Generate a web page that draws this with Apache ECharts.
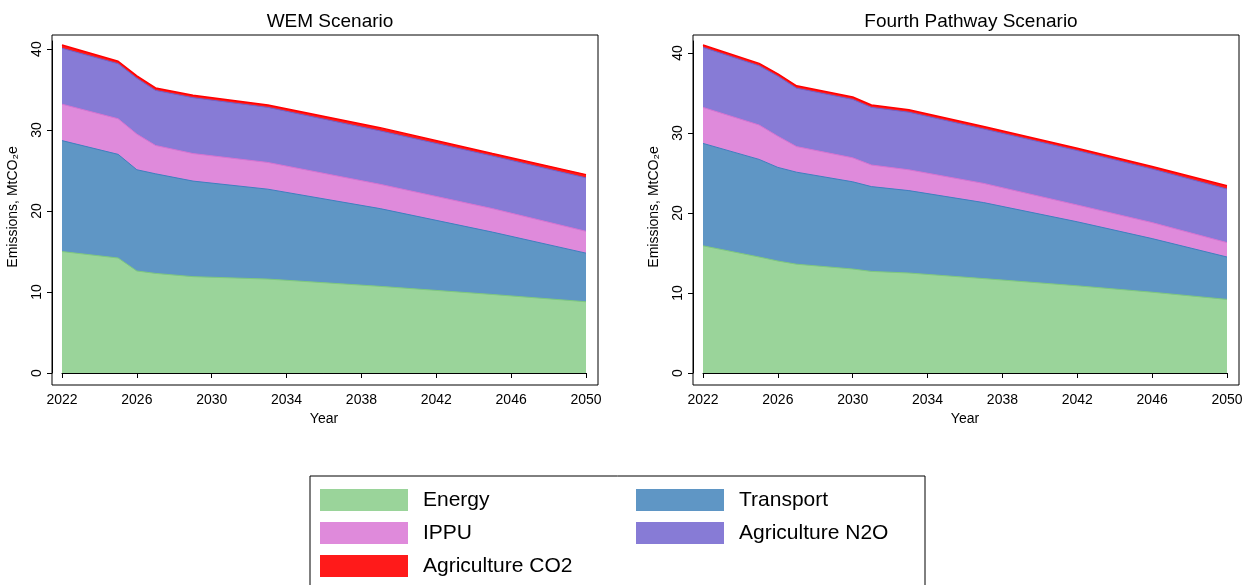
<!DOCTYPE html>
<html>
<head>
<meta charset="UTF-8" />
<script src="https://cdn.jsdelivr.net/npm/echarts@6/dist/echarts.min.js"></script>
<style>body{margin:0;background:#fff}</style>
</head>
<body>
<div id="main" style="width:1257px;height:585px"></div>
<script>
// cumulative tops of each stacked layer (MtCO2e)
const wemYears = [2022, 2025, 2026, 2027, 2029, 2033, 2039, 2045, 2050];
const wemEnergy = [15.0, 14.2, 12.6, 12.3, 11.9, 11.6, 10.7, 9.7, 8.8];
const wemTransport = [28.7, 27.0, 25.1, 24.6, 23.7, 22.7, 20.3, 17.4, 14.8];
const wemIppu = [33.2, 31.4, 29.5, 28.1, 27.1, 26.0, 23.3, 20.3, 17.5];
const wemN2o = [40.1, 38.2, 36.4, 34.9, 34.0, 32.8, 29.9, 26.8, 24.1];
const wemCo2 = [40.5, 38.5, 36.7, 35.2, 34.3, 33.1, 30.3, 27.1, 24.5];

const fpYears = [2022, 2025, 2026, 2027, 2030, 2031, 2033, 2037, 2042, 2046, 2050];
const fpEnergy = [15.9, 14.5, 14.0, 13.6, 13.0, 12.7, 12.5, 11.8, 10.9, 10.1, 9.2];
const fpTransport = [28.7, 26.7, 25.7, 25.1, 23.9, 23.3, 22.8, 21.3, 18.9, 16.8, 14.5];
const fpIppu = [33.2, 31.0, 29.6, 28.3, 26.9, 26.0, 25.4, 23.7, 21.0, 18.8, 16.3];
const fpN2o = [40.7, 38.4, 37.1, 35.6, 34.2, 33.2, 32.6, 30.5, 27.8, 25.5, 23.0];
const fpCo2 = [41.0, 38.7, 37.4, 35.9, 34.5, 33.5, 32.9, 30.8, 28.1, 25.8, 23.4];

const layers = [
  { name: "Agriculture CO2", fill: "#ff1a1a", line: "#ff0000" },
  { name: "Agriculture N2O", fill: "#877bd6", line: "#6f63cc" },
  { name: "IPPU", fill: "#df8adb", line: "#d673d2" },
  { name: "Transport", fill: "#5f96c5", line: "#3f7fbf" },
  { name: "Energy", fill: "#9ad49a", line: "#7fc87f" },
];

const font = "Liberation Sans, Arial, sans-serif";
const charts = [
  { title: "WEM Scenario", years: wemYears, vals: [wemCo2, wemN2o, wemIppu, wemTransport, wemEnergy], left: 62, max: 41, top: 41 },
  { title: "Fourth Pathway Scenario", years: fpYears, vals: [fpCo2, fpN2o, fpIppu, fpTransport, fpEnergy], left: 703, max: 41.5, top: 41 },
];

const grids = [], xAxes = [], yAxes = [], series = [], titles = [];
charts.forEach((c, i) => {
  // frame grid
  grids.push({ left: c.left - 10, width: 546, top: 35, height: 350, show: true, borderColor: "#000", borderWidth: 1, backgroundColor: "#fff" });
  xAxes.push({ gridIndex: 2 * i, show: false });
  yAxes.push({ gridIndex: 2 * i, show: false });
  // data grid
  grids.push({ left: c.left, width: 524, top: c.top, height: 373 - c.top });
  xAxes.push({
    gridIndex: 2 * i + 1, type: "value", min: 2022, max: 2050, interval: 4, offset: 12,
    name: "Year", nameLocation: "middle", nameGap: 25, nameTextStyle: { fontFamily: font, fontSize: 14, color: "#000" },
    axisLine: { lineStyle: { color: "#000" } }, axisTick: { length: 5, lineStyle: { color: "#000" } },
    axisLabel: { fontFamily: font, fontSize: 14, color: "#000", margin: 8, formatter: (v) => String(v) }, splitLine: { show: false },
  });
  yAxes.push({
    gridIndex: 2 * i + 1, type: "value", min: 0, max: c.max, interval: 10, offset: 10,
    name: "Emissions, MtCO₂e", nameLocation: "middle", nameGap: 32, nameTextStyle: { fontFamily: font, fontSize: 14, color: "#000" },
    axisLine: { show: true, lineStyle: { color: "#000" } }, axisTick: { show: true, length: 5, lineStyle: { color: "#000" } },
    axisLabel: { fontFamily: font, fontSize: 14, color: "#000", rotate: 90, margin: 8, showMaxLabel: false }, splitLine: { show: false },
  });
  titles.push({ text: c.title, left: c.left - 10 + 273, textAlign: "center", top: 7, textStyle: { fontFamily: font, fontSize: 19, fontWeight: "normal", color: "#000" } });
  layers.forEach((l, k) => {
    series.push({
      type: "line", name: l.name, xAxisIndex: 2 * i + 1, yAxisIndex: 2 * i + 1,
      data: c.years.map((y, j) => [y, c.vals[k][j]]),
      symbol: "none", silent: true,
      lineStyle: { color: l.line, width: k === 0 ? 1.5 : 1 },
      itemStyle: { color: l.fill },
      areaStyle: { color: l.fill, opacity: 1 },
    });
  });
});

const legendCommon = {
  orient: "vertical", itemWidth: 88, itemHeight: 22, itemGap: 11, selectedMode: false,
  icon: "rect", textStyle: { fontFamily: font, fontSize: 21, color: "#000", padding: [0, 0, 0, 10] },
};

const chart = echarts.init(document.getElementById("main"));
chart.setOption({
  animation: false,
  title: titles,
  grid: grids, xAxis: xAxes, yAxis: yAxes, series: series,
  legend: [
    Object.assign({ left: 315, top: 484, data: ["Energy", "IPPU", "Agriculture CO2"] }, legendCommon),
    Object.assign({ left: 631, top: 484, data: ["Transport", "Agriculture N2O"] }, legendCommon),
  ],
  graphic: [{ type: "rect", shape: { x: 310, y: 476, width: 615, height: 120 }, style: { fill: "none", stroke: "#000", lineWidth: 1 } }],
});
</script>
</body>
</html>
